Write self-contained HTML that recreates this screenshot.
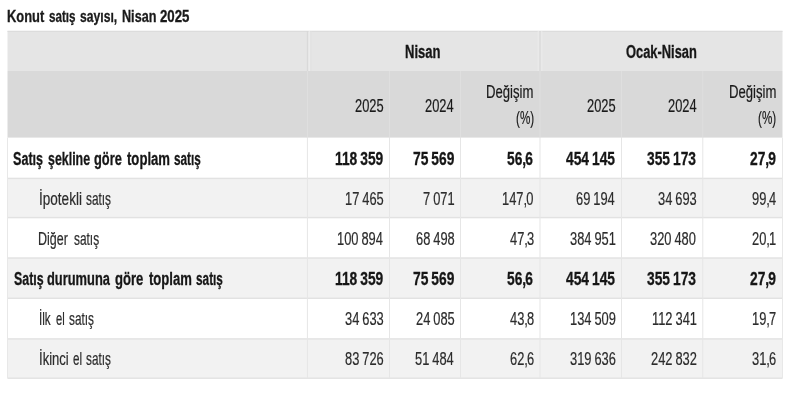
<!DOCTYPE html>
<html lang="tr">
<head>
<meta charset="utf-8">
<title>Konut satış sayısı, Nisan 2025</title>
<style>
html,body{margin:0;padding:0;background:#fff;}
body{width:800px;height:400px;overflow:hidden;position:relative;font-family:"Liberation Sans",sans-serif;}
svg{position:absolute;left:0;top:0;}
#txt{position:absolute;left:0;top:0;width:800px;height:400px;will-change:transform;}
.t{position:absolute;white-space:pre;line-height:1;transform-origin:0 0;}
.b{-webkit-text-stroke:0.3px currentColor;}
.r{-webkit-text-stroke:0.2px currentColor;}
</style>
</head>
<body>
<svg width="800" height="400" viewBox="0 0 800 400">
<rect x="7.50" y="31.00" width="775.00" height="40.00" fill="#e5e5e5"/>
<rect x="7.50" y="71.00" width="775.00" height="66.60" fill="#d9d9d9"/>
<rect x="7.50" y="178.40" width="775.00" height="39.20" fill="#f2f2f2"/>
<rect x="7.50" y="258.00" width="775.00" height="40.30" fill="#f2f2f2"/>
<rect x="7.50" y="338.90" width="775.00" height="39.30" fill="#f2f2f2"/>
<rect x="7.50" y="30.70" width="775.00" height="1.30" fill="#dcdcdc"/>
<rect x="7.50" y="177.70" width="775.00" height="1.40" fill="#e2e2e2"/>
<rect x="7.50" y="216.90" width="775.00" height="1.40" fill="#e2e2e2"/>
<rect x="7.50" y="257.30" width="775.00" height="1.40" fill="#e2e2e2"/>
<rect x="7.50" y="297.60" width="775.00" height="1.40" fill="#e2e2e2"/>
<rect x="7.50" y="338.20" width="775.00" height="1.40" fill="#e2e2e2"/>
<rect x="7.50" y="377.50" width="775.00" height="1.40" fill="#e2e2e2"/>
<rect x="306.90" y="137.60" width="1.00" height="240.60" fill="#e6e6e6"/>
<rect x="389.00" y="137.60" width="1.00" height="240.60" fill="#e6e6e6"/>
<rect x="460.00" y="137.60" width="1.00" height="240.60" fill="#e6e6e6"/>
<rect x="539.50" y="137.60" width="1.00" height="240.60" fill="#e6e6e6"/>
<rect x="621.00" y="137.60" width="1.00" height="240.60" fill="#e6e6e6"/>
<rect x="702.30" y="137.60" width="1.00" height="240.60" fill="#e6e6e6"/>
<rect x="306.90" y="71.00" width="1.00" height="66.60" fill="#dfdfdf"/>
<rect x="389.00" y="71.00" width="1.00" height="66.60" fill="#dfdfdf"/>
<rect x="460.00" y="71.00" width="1.00" height="66.60" fill="#dfdfdf"/>
<rect x="539.50" y="71.00" width="1.00" height="66.60" fill="#dfdfdf"/>
<rect x="621.00" y="71.00" width="1.00" height="66.60" fill="#dfdfdf"/>
<rect x="702.30" y="71.00" width="1.00" height="66.60" fill="#dfdfdf"/>
<rect x="306.90" y="31.00" width="1.00" height="40.00" fill="#d8d8d8"/>
<rect x="308.80" y="31.00" width="1.00" height="40.00" fill="#ededed"/>
<rect x="310.60" y="31.00" width="0.80" height="40.00" fill="#e0e0e0"/>
<rect x="537.70" y="31.00" width="1.00" height="40.00" fill="#ebebeb"/>
<rect x="539.50" y="31.00" width="1.00" height="40.00" fill="#d8d8d8"/>
<rect x="541.30" y="31.00" width="1.00" height="40.00" fill="#ebebeb"/>
<rect x="7.00" y="137.60" width="1.00" height="240.60" fill="#e8e8e8"/>
<rect x="782.00" y="137.60" width="1.00" height="240.60" fill="#e8e8e8"/>
</svg>
<div id="txt">
<div class="t b" style="left:7.27px;top:9.10px;font-size:15.60px;font-weight:700;color:#1a1a1a;transform:scaleX(0.8281)">Konut</div>
<div class="t b" style="left:48.75px;top:9.10px;font-size:15.60px;font-weight:700;color:#1a1a1a;transform:scaleX(0.7485)">satış</div>
<div class="t b" style="left:80.00px;top:9.10px;font-size:15.60px;font-weight:700;color:#1a1a1a;transform:scaleX(0.7792)">sayısı,</div>
<div class="t b" style="left:122.29px;top:9.10px;font-size:15.60px;font-weight:700;color:#1a1a1a;transform:scaleX(0.8097)">Nisan</div>
<div class="t b" style="left:160.00px;top:9.10px;font-size:15.60px;font-weight:700;color:#1a1a1a;transform:scaleX(0.8496)">2025</div>
<div class="t b" style="left:405.25px;top:43.65px;font-size:17.50px;font-weight:700;color:#161616;transform:scaleX(0.7451)">Nisan</div>
<div class="t b" style="left:625.60px;top:43.65px;font-size:17.50px;font-weight:700;color:#161616;transform:scaleX(0.7364)">Ocak-Nisan</div>
<div class="t r" style="left:355.02px;top:97.65px;font-size:17.50px;font-weight:400;color:#1a1a1a;word-spacing:-0.8px;transform:scaleX(0.7350)">2025</div>
<div class="t r" style="left:425.49px;top:97.65px;font-size:17.50px;font-weight:400;color:#1a1a1a;word-spacing:-0.8px;transform:scaleX(0.7350)">2024</div>
<div class="t r" style="left:586.92px;top:97.65px;font-size:17.50px;font-weight:400;color:#1a1a1a;word-spacing:-0.8px;transform:scaleX(0.7350)">2025</div>
<div class="t r" style="left:667.69px;top:97.65px;font-size:17.50px;font-weight:400;color:#1a1a1a;word-spacing:-0.8px;transform:scaleX(0.7350)">2024</div>
<div class="t r" style="left:486.45px;top:83.65px;font-size:17.50px;font-weight:400;color:#1a1a1a;transform:scaleX(0.7496)">Değişim</div>
<div class="t r" style="left:515.83px;top:109.65px;font-size:17.50px;font-weight:400;color:#1a1a1a;transform:scaleX(0.6657)">(%)</div>
<div class="t r" style="left:729.05px;top:83.65px;font-size:17.50px;font-weight:400;color:#1a1a1a;transform:scaleX(0.7496)">Değişim</div>
<div class="t r" style="left:758.43px;top:109.65px;font-size:17.50px;font-weight:400;color:#1a1a1a;transform:scaleX(0.6657)">(%)</div>
<div class="t b" style="left:13.20px;top:150.65px;font-size:17.50px;font-weight:700;color:#161616;transform:scaleX(0.7198)">Satış</div>
<div class="t b" style="left:47.70px;top:150.65px;font-size:17.50px;font-weight:700;color:#161616;transform:scaleX(0.7096)">şekline</div>
<div class="t b" style="left:93.70px;top:150.65px;font-size:17.50px;font-weight:700;color:#161616;transform:scaleX(0.7332)">göre</div>
<div class="t b" style="left:126.70px;top:150.65px;font-size:17.50px;font-weight:700;color:#161616;transform:scaleX(0.7500)">toplam</div>
<div class="t b" style="left:173.80px;top:150.65px;font-size:17.50px;font-weight:700;color:#161616;transform:scaleX(0.6724)">satış</div>
<div class="t b" style="left:334.63px;top:150.65px;font-size:17.50px;font-weight:700;color:#161616;word-spacing:-1.05px;transform:scaleX(0.7880)">118 359</div>
<div class="t b" style="left:412.74px;top:150.65px;font-size:17.50px;font-weight:700;color:#161616;word-spacing:-1.05px;transform:scaleX(0.7880)">75 569</div>
<div class="t b" style="left:507.34px;top:150.65px;font-size:17.50px;font-weight:700;color:#161616;word-spacing:-1.05px;transform:scaleX(0.7880)">56<span style="letter-spacing:-1.25px">,</span>6</div>
<div class="t b" style="left:565.77px;top:150.65px;font-size:17.50px;font-weight:700;color:#161616;word-spacing:-1.05px;transform:scaleX(0.7880)">454 145</div>
<div class="t b" style="left:647.27px;top:150.65px;font-size:17.50px;font-weight:700;color:#161616;word-spacing:-1.05px;transform:scaleX(0.7880)">355 173</div>
<div class="t b" style="left:749.94px;top:150.65px;font-size:17.50px;font-weight:700;color:#161616;word-spacing:-1.05px;transform:scaleX(0.7880)">27<span style="letter-spacing:-1.25px">,</span>9</div>
<div class="t r" style="left:38.98px;top:190.65px;font-size:17.50px;font-weight:400;color:#2c2c2c;transform:scaleX(0.7748)">İpotekli</div>
<div class="t r" style="left:85.80px;top:190.65px;font-size:17.50px;font-weight:400;color:#2c2c2c;transform:scaleX(0.6773)">satış</div>
<div class="t r" style="left:344.89px;top:190.65px;font-size:17.50px;font-weight:400;color:#2c2c2c;word-spacing:-0.8px;transform:scaleX(0.7350)">17 465</div>
<div class="t r" style="left:423.24px;top:190.65px;font-size:17.50px;font-weight:400;color:#2c2c2c;word-spacing:-0.8px;transform:scaleX(0.7350)">7 071</div>
<div class="t r" style="left:501.93px;top:190.65px;font-size:17.50px;font-weight:400;color:#2c2c2c;word-spacing:-0.8px;transform:scaleX(0.7350)">147<span style="letter-spacing:-1.25px">,</span>0</div>
<div class="t r" style="left:576.05px;top:190.65px;font-size:17.50px;font-weight:400;color:#2c2c2c;word-spacing:-0.8px;transform:scaleX(0.7350)">69 194</div>
<div class="t r" style="left:658.29px;top:190.65px;font-size:17.50px;font-weight:400;color:#2c2c2c;word-spacing:-0.8px;transform:scaleX(0.7350)">34 693</div>
<div class="t r" style="left:751.69px;top:190.65px;font-size:17.50px;font-weight:400;color:#2c2c2c;word-spacing:-0.8px;transform:scaleX(0.7350)">99<span style="letter-spacing:-1.25px">,</span>4</div>
<div class="t r" style="left:38.19px;top:230.65px;font-size:17.50px;font-weight:400;color:#2c2c2c;transform:scaleX(0.7123)">Diğer</div>
<div class="t r" style="left:73.75px;top:230.65px;font-size:17.50px;font-weight:400;color:#2c2c2c;transform:scaleX(0.6786)">satış</div>
<div class="t r" style="left:337.00px;top:230.65px;font-size:17.50px;font-weight:400;color:#2c2c2c;word-spacing:-0.8px;transform:scaleX(0.7350)">100 894</div>
<div class="t r" style="left:416.09px;top:230.65px;font-size:17.50px;font-weight:400;color:#2c2c2c;word-spacing:-0.8px;transform:scaleX(0.7350)">68 498</div>
<div class="t r" style="left:509.82px;top:230.65px;font-size:17.50px;font-weight:400;color:#2c2c2c;word-spacing:-0.8px;transform:scaleX(0.7350)">47<span style="letter-spacing:-1.25px">,</span>3</div>
<div class="t r" style="left:569.63px;top:230.65px;font-size:17.50px;font-weight:400;color:#2c2c2c;word-spacing:-0.8px;transform:scaleX(0.7350)">384 951</div>
<div class="t r" style="left:650.40px;top:230.65px;font-size:17.50px;font-weight:400;color:#2c2c2c;word-spacing:-0.8px;transform:scaleX(0.7350)">320 480</div>
<div class="t r" style="left:752.42px;top:230.65px;font-size:17.50px;font-weight:400;color:#2c2c2c;word-spacing:-0.8px;transform:scaleX(0.7350)">20<span style="letter-spacing:-1.25px">,</span>1</div>
<div class="t b" style="left:13.50px;top:270.65px;font-size:17.50px;font-weight:700;color:#161616;transform:scaleX(0.7079)">Satış</div>
<div class="t b" style="left:46.90px;top:270.65px;font-size:17.50px;font-weight:700;color:#161616;transform:scaleX(0.7353)">durumuna</div>
<div class="t b" style="left:115.25px;top:270.65px;font-size:17.50px;font-weight:700;color:#161616;transform:scaleX(0.7463)">göre</div>
<div class="t b" style="left:148.75px;top:270.65px;font-size:17.50px;font-weight:700;color:#161616;transform:scaleX(0.7482)">toplam</div>
<div class="t b" style="left:196.00px;top:270.65px;font-size:17.50px;font-weight:700;color:#161616;transform:scaleX(0.6749)">satış</div>
<div class="t b" style="left:334.63px;top:270.65px;font-size:17.50px;font-weight:700;color:#161616;word-spacing:-1.05px;transform:scaleX(0.7880)">118 359</div>
<div class="t b" style="left:412.74px;top:270.65px;font-size:17.50px;font-weight:700;color:#161616;word-spacing:-1.05px;transform:scaleX(0.7880)">75 569</div>
<div class="t b" style="left:507.34px;top:270.65px;font-size:17.50px;font-weight:700;color:#161616;word-spacing:-1.05px;transform:scaleX(0.7880)">56<span style="letter-spacing:-1.25px">,</span>6</div>
<div class="t b" style="left:565.77px;top:270.65px;font-size:17.50px;font-weight:700;color:#161616;word-spacing:-1.05px;transform:scaleX(0.7880)">454 145</div>
<div class="t b" style="left:647.27px;top:270.65px;font-size:17.50px;font-weight:700;color:#161616;word-spacing:-1.05px;transform:scaleX(0.7880)">355 173</div>
<div class="t b" style="left:749.94px;top:270.65px;font-size:17.50px;font-weight:700;color:#161616;word-spacing:-1.05px;transform:scaleX(0.7880)">27<span style="letter-spacing:-1.25px">,</span>9</div>
<div class="t r" style="left:38.73px;top:310.65px;font-size:17.50px;font-weight:400;color:#2c2c2c;transform:scaleX(0.6687)">İlk</div>
<div class="t r" style="left:55.60px;top:310.65px;font-size:17.50px;font-weight:400;color:#2c2c2c;transform:scaleX(0.6401)">el</div>
<div class="t r" style="left:68.75px;top:310.65px;font-size:17.50px;font-weight:400;color:#2c2c2c;transform:scaleX(0.6760)">satış</div>
<div class="t r" style="left:344.89px;top:310.65px;font-size:17.50px;font-weight:400;color:#2c2c2c;word-spacing:-0.8px;transform:scaleX(0.7350)">34 633</div>
<div class="t r" style="left:416.09px;top:310.65px;font-size:17.50px;font-weight:400;color:#2c2c2c;word-spacing:-0.8px;transform:scaleX(0.7350)">24 085</div>
<div class="t r" style="left:509.82px;top:310.65px;font-size:17.50px;font-weight:400;color:#2c2c2c;word-spacing:-0.8px;transform:scaleX(0.7350)">43<span style="letter-spacing:-1.25px">,</span>8</div>
<div class="t r" style="left:569.63px;top:310.65px;font-size:17.50px;font-weight:400;color:#2c2c2c;word-spacing:-0.8px;transform:scaleX(0.7350)">134 509</div>
<div class="t r" style="left:652.09px;top:310.65px;font-size:17.50px;font-weight:400;color:#2c2c2c;word-spacing:-0.8px;transform:scaleX(0.7350)">112 341</div>
<div class="t r" style="left:752.42px;top:310.65px;font-size:17.50px;font-weight:400;color:#2c2c2c;word-spacing:-0.8px;transform:scaleX(0.7350)">19<span style="letter-spacing:-1.25px">,</span>7</div>
<div class="t r" style="left:39.00px;top:350.65px;font-size:17.50px;font-weight:400;color:#2c2c2c;transform:scaleX(0.7464)">İkinci</div>
<div class="t r" style="left:72.50px;top:350.65px;font-size:17.50px;font-weight:400;color:#2c2c2c;transform:scaleX(0.6676)">el</div>
<div class="t r" style="left:86.00px;top:350.65px;font-size:17.50px;font-weight:400;color:#2c2c2c;transform:scaleX(0.6719)">satış</div>
<div class="t r" style="left:344.89px;top:350.65px;font-size:17.50px;font-weight:400;color:#2c2c2c;word-spacing:-0.8px;transform:scaleX(0.7350)">83 726</div>
<div class="t r" style="left:415.35px;top:350.65px;font-size:17.50px;font-weight:400;color:#2c2c2c;word-spacing:-0.8px;transform:scaleX(0.7350)">51 484</div>
<div class="t r" style="left:509.82px;top:350.65px;font-size:17.50px;font-weight:400;color:#2c2c2c;word-spacing:-0.8px;transform:scaleX(0.7350)">62<span style="letter-spacing:-1.25px">,</span>6</div>
<div class="t r" style="left:569.63px;top:350.65px;font-size:17.50px;font-weight:400;color:#2c2c2c;word-spacing:-0.8px;transform:scaleX(0.7350)">319 636</div>
<div class="t r" style="left:651.13px;top:350.65px;font-size:17.50px;font-weight:400;color:#2c2c2c;word-spacing:-0.8px;transform:scaleX(0.7350)">242 832</div>
<div class="t r" style="left:752.42px;top:350.65px;font-size:17.50px;font-weight:400;color:#2c2c2c;word-spacing:-0.8px;transform:scaleX(0.7350)">31<span style="letter-spacing:-1.25px">,</span>6</div>
</div>
</body>
</html>
